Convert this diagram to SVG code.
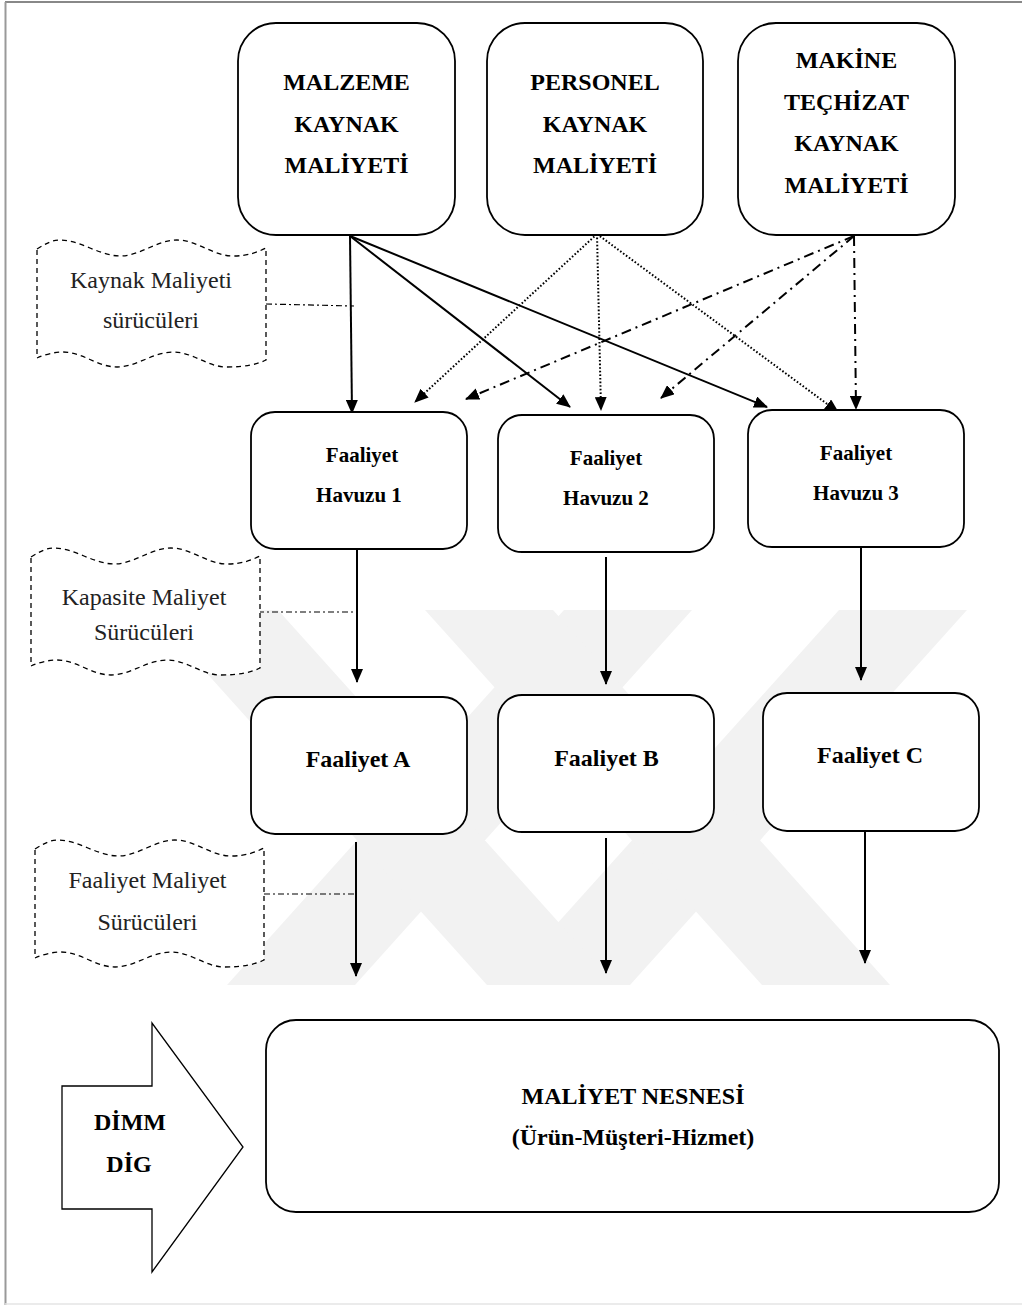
<svg xmlns="http://www.w3.org/2000/svg" width="1022" height="1305" viewBox="0 0 1022 1305">
<style>
.box{fill:#fff;stroke:#000;stroke-width:1.8}
.tape{fill:#fff;stroke:#000;stroke-width:1.3;stroke-dasharray:5 4}
.tb{font-family:"Liberation Serif","Times New Roman",serif;font-weight:bold;font-size:24px;text-anchor:middle;fill:#000}
.tm{font-family:"Liberation Serif","Times New Roman",serif;font-weight:bold;font-size:21px;text-anchor:middle;fill:#000}
.tr{font-family:"Liberation Serif","Times New Roman",serif;font-size:24px;text-anchor:middle;fill:#222}
.solid{fill:none;stroke:#000;stroke-width:2}
.dot{fill:none;stroke:#000;stroke-width:2;stroke-dasharray:1.6 2}
.dd{fill:none;stroke:#000;stroke-width:2;stroke-dasharray:10 5 2 5}
.thin{fill:none;stroke:#000;stroke-width:1.2;stroke-dasharray:6 3 2 3}
.wm{fill:#f2f2f2}
</style>
<defs>
<marker id="ah" markerUnits="userSpaceOnUse" markerWidth="14" markerHeight="12" refX="13" refY="6" orient="auto">
<path d="M0,0 L14,6 L0,12 z" fill="#000"/>
</marker>
<path id="tapeShape" d="M37,249 C45,244 52,240 60,240 C80,240 100,256 120,256 C140,256 157,240 177,240 C197,240 213,256 233,256 C248,256 258,252 266,248 L266,360 C258,364 246,367 227,367 C207,367 193,352 173,352 C153,352 137,367 117,367 C97,367 83,352 63,352 C53,352 44,355 37,358 Z"/>
</defs>
<rect width="1022" height="1305" fill="#fff"/>
<g id="watermark">
<polygon class="wm" points="564,610 692,610 355,985 227,985"/>
<polygon class="wm" points="839,610 967,610 630,985 502,985"/>
<polygon class="wm" points="150,610 278,610 615,985 487,985"/>
<polygon class="wm" points="425,610 553,610 890,985 762,985"/>
</g>
<g id="frame">
<line x1="5" y1="2" x2="1022" y2="2" stroke="#888" stroke-width="2"/>
<line x1="5.5" y1="2" x2="5.5" y2="1305" stroke="#999" stroke-width="2"/>
<line x1="5" y1="1304" x2="1022" y2="1304" stroke="#e4e4e4" stroke-width="1.5"/>
</g>
<g id="connectors">
<line class="solid" x1="350" y1="236" x2="352" y2="413" marker-end="url(#ah)"/>
<line class="solid" x1="350" y1="236" x2="570" y2="407" marker-end="url(#ah)"/>
<line class="solid" x1="350" y1="236" x2="767" y2="407" marker-end="url(#ah)"/>
<line class="dot" x1="597" y1="234" x2="415" y2="402" marker-end="url(#ah)"/>
<line class="dot" x1="597" y1="234" x2="601" y2="410" marker-end="url(#ah)"/>
<line class="dot" x1="597" y1="234" x2="838" y2="412" marker-end="url(#ah)"/>
<line class="dd" x1="854" y1="236" x2="466" y2="399" marker-end="url(#ah)"/>
<line class="dd" x1="854" y1="236" x2="661" y2="398" marker-end="url(#ah)"/>
<line class="dd" x1="854" y1="236" x2="856" y2="409" marker-end="url(#ah)"/>
<line class="solid" x1="357" y1="549" x2="357" y2="682" marker-end="url(#ah)"/>
<line class="solid" x1="606" y1="557" x2="606" y2="684" marker-end="url(#ah)"/>
<line class="solid" x1="861" y1="547" x2="861" y2="680" marker-end="url(#ah)"/>
<line class="solid" x1="356" y1="842" x2="356" y2="976" marker-end="url(#ah)"/>
<line class="solid" x1="606" y1="838" x2="606" y2="973" marker-end="url(#ah)"/>
<line class="solid" x1="865" y1="831" x2="865" y2="963" marker-end="url(#ah)"/>
<line class="thin" x1="266" y1="304" x2="354" y2="306"/>
<line class="thin" x1="258" y1="612" x2="356" y2="612"/>
<line class="thin" x1="264" y1="894" x2="355" y2="894"/>
</g>
<g id="n-malzeme">
<rect class="box" x="238" y="23" width="217" height="212" rx="38"/>
<text class="tb" x="346.5" y="90">MALZEME</text>
<text class="tb" x="346.5" y="132">KAYNAK</text>
<text class="tb" x="346.5" y="173">MALİYETİ</text>
</g>
<g id="n-personel">
<rect class="box" x="487" y="23" width="216" height="212" rx="38"/>
<text class="tb" x="595" y="90">PERSONEL</text>
<text class="tb" x="595" y="132">KAYNAK</text>
<text class="tb" x="595" y="173">MALİYETİ</text>
</g>
<g id="n-makine">
<rect class="box" x="738" y="23" width="217" height="212" rx="38"/>
<text class="tb" x="846.5" y="68">MAKİNE</text>
<text class="tb" x="846.5" y="110">TEÇHİZAT</text>
<text class="tb" x="846.5" y="151">KAYNAK</text>
<text class="tb" x="846.5" y="193">MALİYETİ</text>
</g>
<g id="n-kaynak-surucu">
<use href="#tapeShape" class="tape"/>
<text class="tr" x="151" y="288">Kaynak Maliyeti</text>
<text class="tr" x="151" y="328">sürücüleri</text>
</g>
<g id="n-havuz1">
<rect class="box" x="251" y="412" width="216" height="137" rx="24"/>
<text class="tm" x="362" y="462">Faaliyet</text>
<text class="tm" x="359" y="502">Havuzu 1</text>
</g>
<g id="n-havuz2">
<rect class="box" x="498" y="415" width="216" height="137" rx="24"/>
<text class="tm" x="606" y="465">Faaliyet</text>
<text class="tm" x="606" y="505">Havuzu 2</text>
</g>
<g id="n-havuz3">
<rect class="box" x="748" y="410" width="216" height="137" rx="24"/>
<text class="tm" x="856" y="460">Faaliyet</text>
<text class="tm" x="856" y="500">Havuzu 3</text>
</g>
<g id="n-kapasite-surucu">
<use href="#tapeShape" class="tape" transform="translate(-6,308)"/>
<text class="tr" x="144" y="605">Kapasite Maliyet</text>
<text class="tr" x="144" y="640">Sürücüleri</text>
</g>
<g id="n-faaliyetA">
<rect class="box" x="251" y="697" width="216" height="137" rx="24"/>
<text class="tb" x="358" y="767">Faaliyet A</text>
</g>
<g id="n-faaliyetB">
<rect class="box" x="498" y="695" width="216" height="137" rx="24"/>
<text class="tb" x="606.5" y="766">Faaliyet B</text>
</g>
<g id="n-faaliyetC">
<rect class="box" x="763" y="693" width="216" height="138" rx="24"/>
<text class="tb" x="870" y="763">Faaliyet C</text>
</g>
<g id="n-faaliyet-surucu">
<use href="#tapeShape" class="tape" transform="translate(-2,600)"/>
<text class="tr" x="147.5" y="888">Faaliyet Maliyet</text>
<text class="tr" x="147.5" y="930">Sürücüleri</text>
</g>
<g id="n-dimm">
<polygon points="62,1086 152,1086 152,1023 243,1147 152,1272 152,1209 62,1209" fill="#fff" stroke="#000" stroke-width="1.3"/>
<text class="tb" x="130" y="1130">DİMM</text>
<text class="tb" x="129" y="1172">DİG</text>
</g>
<g id="n-nesne">
<rect class="box" x="266" y="1020" width="733" height="192" rx="30"/>
<text class="tb" x="633" y="1104">MALİYET NESNESİ</text>
<text class="tb" x="633" y="1145">(Ürün-Müşteri-Hizmet)</text>
</g>
</svg>
